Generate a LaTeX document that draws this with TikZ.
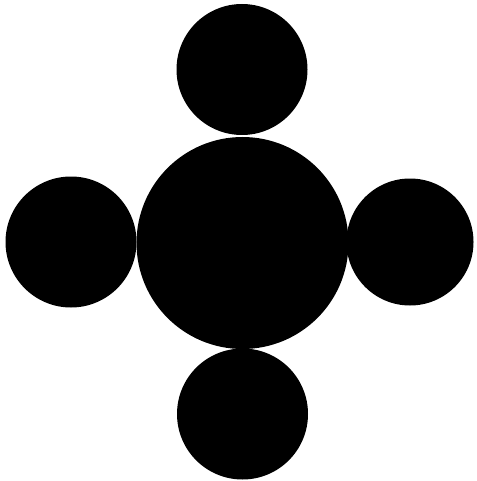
\documentclass[tikz,border=0pt]{standalone}
\begin{document}
\begin{tikzpicture}[x=1pt,y=-1pt,
  ball/.style={circle,fill=black,draw=none,inner sep=0pt}]
\useasboundingbox (0,0) rectangle (476,481);
\fill[white] (0,0) rectangle (476,481);
\node[ball,minimum size=212pt] (center) at (242.5,243) {};
\node[ball,minimum size=131pt] (top) at (242,69.5) {};
\node[ball,minimum size=131pt] (left) at (71,242) {};
\node[ball,minimum size=127pt] (right) at (410,242) {};
\node[ball,minimum size=131pt] (bottom) at (242.5,414) {};
\end{tikzpicture}
\end{document}
